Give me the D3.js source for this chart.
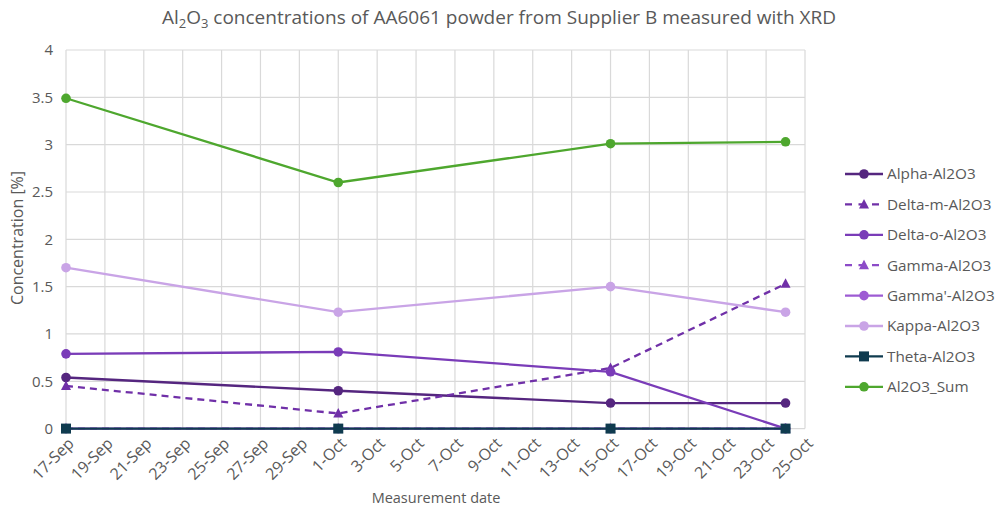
<!DOCTYPE html>
<html>
<head>
<meta charset="utf-8">
<script src="https://cdn.jsdelivr.net/npm/d3@7"></script>
<style>
  html, body { margin: 0; padding: 0; background: #ffffff; }
  svg { display: block; font-family: "Open Sans", "Noto Sans", sans-serif; }
</style>
</head>
<body>
<svg id="chart" width="995" height="511"></svg>
<script>
// Measurement dates (2024)
const dates = ["2024-09-17", "2024-10-01", "2024-10-15", "2024-10-24"];

// Phase concentrations in %
const seriesNames = ["Alpha-Al2O3", "Delta-m-Al2O3", "Delta-o-Al2O3", "Gamma-Al2O3",
                     "Gamma'-Al2O3", "Kappa-Al2O3", "Theta-Al2O3", "Al2O3_Sum"];
const alpha   = [0.54, 0.40, 0.27, 0.27];
const deltaM  = [0.45, 0.16, 0.64, 1.53];
const deltaO  = [0.79, 0.81, 0.60, 0.00];
const gamma   = [0.00, 0.00, 0.00, 0.00];
const gammaP  = [0.00, 0.00, 0.00, 0.00];
const kappa   = [1.70, 1.23, 1.50, 1.23];
const theta   = [0.00, 0.00, 0.00, 0.00];
const sum     = [3.49, 2.60, 3.01, 3.03];

// Axis ticks
const xTickLabels = ["17-Sep","19-Sep","21-Sep","23-Sep","25-Sep","27-Sep","29-Sep","1-Oct",
                     "3-Oct","5-Oct","7-Oct","9-Oct","11-Oct","13-Oct","15-Oct","17-Oct",
                     "19-Oct","21-Oct","23-Oct","25-Oct"];
const yTicks = [0, 0.5, 1, 1.5, 2, 2.5, 3, 3.5, 4];

const seriesValues = [alpha, deltaM, deltaO, gamma, gammaP, kappa, theta, sum];
const styles = [
  { color: "#55267f", dash: null,  marker: "circle" },
  { color: "#7030a8", dash: "7,5", marker: "triangle" },
  { color: "#7a3cb8", dash: null,  marker: "circle" },
  { color: "#8c4bc8", dash: "7,5", marker: "triangle" },
  { color: "#9d5bd3", dash: null,  marker: "circle" },
  { color: "#c9a4e6", dash: null,  marker: "circle" },
  { color: "#0f3b4f", dash: null,  marker: "square" },
  { color: "#4ea72e", dash: null,  marker: "circle" }
];

const parse = d3.utcParse("%Y-%m-%d");
const parseTick = s => d3.utcParse("%d-%b-%Y")(s + "-2024");

const svg = d3.select("#chart");

const x = d3.scaleUtc()
  .domain([parse("2024-09-17"), parse("2024-10-25")])
  .range([66, 805]);
const y = d3.scaleLinear().domain([0, 4]).range([428.6, 50]);

const textColor = "#595959";
const gridColor = "#d9d9d9";

// Gridlines
const tickDates = xTickLabels.map(parseTick);
svg.append("g").selectAll("line").data(tickDates).join("line")
  .attr("x1", d => x(d)).attr("x2", d => x(d))
  .attr("y1", y(4)).attr("y2", y(0))
  .attr("stroke", gridColor).attr("stroke-width", 1.2);
svg.append("g").selectAll("line").data(yTicks).join("line")
  .attr("x1", x(tickDates[0])).attr("x2", x(tickDates[tickDates.length - 1]))
  .attr("y1", d => y(d)).attr("y2", d => y(d))
  .attr("stroke", gridColor).attr("stroke-width", 1.2);

// Y axis labels
const yAxis = d3.axisLeft(y).tickValues(yTicks).tickSize(0).tickPadding(0)
  .tickFormat(d3.format("~g"));
const gy = svg.append("g").attr("transform", "translate(53,0)").call(yAxis);
gy.select(".domain").remove();
gy.selectAll("text").attr("fill", textColor).style("font-size", "15px")
  .style("font-family", "'Open Sans', sans-serif");

// X axis labels, rotated
const xAxis = d3.axisBottom(x).tickValues(tickDates).tickSize(0).tickPadding(0)
  .tickFormat((d, i) => xTickLabels[i]);
const gx = svg.append("g").call(xAxis);
gx.select(".domain").remove();
gx.selectAll(".tick").attr("transform", d => `translate(${x(d) + 5},${y(0) + 12})`);
gx.selectAll("text")
  .attr("y", 0).attr("dy", "0.35em").attr("x", 0)
  .attr("transform", "rotate(-45)")
  .style("text-anchor", "end")
  .attr("fill", textColor).style("font-size", "16px")
  .style("font-family", "'Open Sans', sans-serif");

// Lines
const line = d3.line().x((d, i) => x(parse(dates[i]))).y(d => y(d));
seriesValues.forEach((vals, k) => {
  const st = styles[k];
  const g = svg.append("g");
  g.append("path").datum(vals).attr("d", line)
    .attr("fill", "none").attr("stroke", st.color).attr("stroke-width", 2.3)
    .attr("stroke-dasharray", st.dash);
  vals.forEach((v, i) => drawMarker(g, x(parse(dates[i])), y(v), st));
});

function drawMarker(g, px, py, st) {
  if (st.marker === "circle") {
    g.append("circle").attr("cx", px).attr("cy", py).attr("r", 4.8).attr("fill", st.color);
  } else if (st.marker === "square") {
    g.append("rect").attr("x", px - 5).attr("y", py - 5).attr("width", 10).attr("height", 10)
      .attr("fill", st.color);
  } else {
    g.append("path").attr("transform", `translate(${px},${py})`)
      .attr("d", "M0,-5.5 L5,4 L-5,4 Z").attr("fill", st.color);
  }
}

// Legend
const legend = svg.append("g");
seriesNames.forEach((name, k) => {
  const st = styles[k];
  const ly = 174 + k * 30.4;
  const g = legend.append("g");
  g.append("line").attr("x1", 845).attr("x2", 883).attr("y1", ly).attr("y2", ly)
    .attr("stroke", st.color).attr("stroke-width", 2.3).attr("stroke-dasharray", st.dash ? "7,6.5" : null);
  drawMarker(g, 864, ly, st);
  g.append("text").attr("x", 887).attr("y", ly).attr("dy", "0.35em")
    .attr("fill", textColor).style("font-size", "15.3px").text(name);
});

// Title with subscripts
const title = svg.append("text").attr("x", 499).attr("y", 24)
  .attr("text-anchor", "middle").attr("fill", textColor).style("font-size", "19px");
title.append("tspan").text("Al");
title.append("tspan").attr("dy", 4).style("font-size", "13px").text("2");
title.append("tspan").attr("dy", -4).text("O");
title.append("tspan").attr("dy", 4).style("font-size", "13px").text("3");
title.append("tspan").attr("dy", -4).text(" concentrations of AA6061 powder from Supplier B measured with XRD");

// Axis titles
svg.append("text").attr("x", 436).attr("y", 503).attr("text-anchor", "middle")
  .attr("fill", textColor).style("font-size", "14.5px").text("Measurement date");
svg.append("text").attr("transform", "translate(23,238) rotate(-90)")
  .attr("text-anchor", "middle").attr("fill", textColor).style("font-size", "16px")
  .text("Concentration [%]");
</script>
</body>
</html>
